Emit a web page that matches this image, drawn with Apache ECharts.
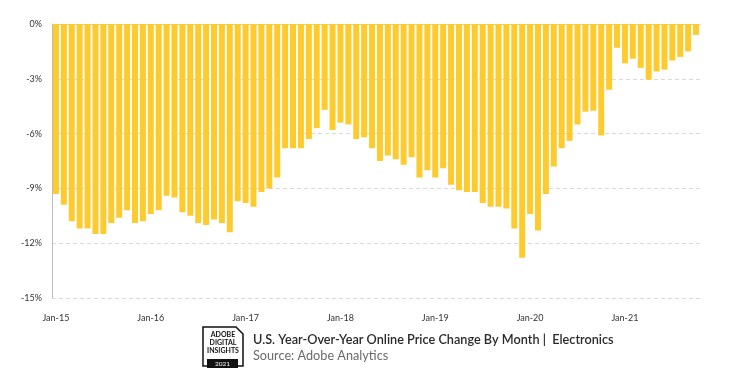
<!DOCTYPE html>
<html>
<head>
<meta charset="utf-8">
<script src="https://cdn.jsdelivr.net/npm/echarts@6/dist/echarts.min.js"></script>
<style>
  html, body { margin: 0; padding: 0; background: #fff; }
  #chart { width: 750px; height: 375px; }
</style>
</head>
<body>
<div id="chart"></div>
<script>
// months Jan-15 .. Oct-21
var monthNames = ["Jan", "Feb", "Mar", "Apr", "May", "Jun", "Jul", "Aug", "Sep", "Oct", "Nov", "Dec"];
var years = ["15", "16", "17", "18", "19", "20", "21"];
var lastMonthOfLastYear = 10;

var categories = [];
years.forEach(function (y, yi) {
  var n = yi === years.length - 1 ? lastMonthOfLastYear : 12;
  for (var m = 0; m < n; m++) categories.push(monthNames[m] + "-" + y);
});

// year over year price change, %
var priceChange = [
  -9.3, -9.9, -10.8, -11.2, -11.2, -11.5, -11.5, -10.9, -10.6, -10.2, -10.9, -10.8,
  -10.4, -10.2, -9.4, -9.5, -10.3, -10.5, -10.9, -11.0, -10.7, -10.9, -11.4, -9.7,
  -9.8, -10.0, -9.2, -9.0, -8.4, -6.8, -6.8, -6.8, -6.3, -5.7, -4.7, -5.8,
  -5.4, -5.5, -6.3, -6.2, -6.8, -7.5, -7.2, -7.4, -7.7, -7.3, -8.4, -8.0,
  -8.4, -7.9, -8.8, -9.1, -9.2, -9.2, -9.8, -10.0, -10.0, -10.1, -11.2, -12.8,
  -10.4, -11.3, -9.3, -7.8, -6.8, -6.4, -5.5, -4.8, -4.75, -6.1, -3.6, -1.3,
  -2.15, -1.9, -2.4, -3.05, -2.6, -2.5, -2.0, -1.8, -1.5, -0.6
];

var chartTitle = "U.S. Year-Over-Year Online Price Change By Month |  Electronics";
var chartSource = "Source: Adobe Analytics";
var badgeLines = "ADOBE\nDIGITAL\nINSIGHTS";
var badgeYear = "2021";

var chart = echarts.init(document.getElementById("chart"));
var fontName = "Lato, 'Open Sans', sans-serif";

chart.setOption({
  animation: false,
  grid: {
    left: 52,
    right: 50,
    top: 24,
    bottom: 77
  },
  xAxis: [
    {
      type: "category",
      data: categories,
      position: "bottom",
      axisLine: { show: false, onZero: false },
      axisTick: { show: false },
      axisLabel: {
        interval: function (i) {
          return i % 12 === 0;
        },
        margin: 16,
        fontSize: 9,
        color: "#333",
        fontFamily: fontName
      }
    },
    {
      // thin line along 0%
      type: "category",
      data: categories,
      position: "top",
      axisLine: { show: true, lineStyle: { color: "#f0cf66", width: 1 } },
      axisTick: { show: false },
      axisLabel: { show: false }
    }
  ],
  yAxis: {
    type: "value",
    min: -15,
    max: 0,
    interval: 3,
    axisLine: { show: true, lineStyle: { color: "#bdbdbd" } },
    axisTick: { show: false },
    axisLabel: {
      formatter: function (v) {
        return v + "%";
      },
      margin: 10,
      fontSize: 9,
      color: "#333",
      fontFamily: fontName
    },
    splitLine: {
      show: true,
      lineStyle: { color: "#dadada", type: [4, 3], width: 1 }
    }
  },
  series: [
    {
      type: "bar",
      data: priceChange,
      barWidth: "76%",
      itemStyle: { color: "#fecb2f" }
    }
  ],
  graphic: [
    {
      type: "polygon",
      shape: {
        points: [[203, 327], [236, 327], [243, 334], [243, 366], [203, 366]]
      },
      style: { fill: "#fff", stroke: "#111", lineWidth: 1.5 }
    },
    {
      type: "text",
      x: 223,
      y: 331,
      style: {
        text: badgeLines,
        align: "center",
        verticalAlign: "top",
        fill: "#111",
        font: "bold 7px " + fontName,
        lineHeight: 7.8
      }
    },
    {
      type: "rect",
      shape: { x: 207, y: 359, width: 31, height: 9 },
      style: { fill: "#111" }
    },
    {
      type: "text",
      x: 222.5,
      y: 363.5,
      style: {
        text: badgeYear,
        align: "center",
        verticalAlign: "middle",
        fill: "#fff",
        font: "6.5px " + fontName
      }
    },
    {
      type: "text",
      x: 253,
      y: 340,
      style: {
        text: chartTitle,
        verticalAlign: "middle",
        fill: "#2a2a2a",
        font: "600 12.7px " + fontName
      }
    },
    {
      type: "text",
      x: 253,
      y: 356,
      style: {
        text: chartSource,
        verticalAlign: "middle",
        fill: "#6a6a6a",
        font: "12.7px " + fontName
      }
    }
  ]
});
</script>
</body>
</html>
